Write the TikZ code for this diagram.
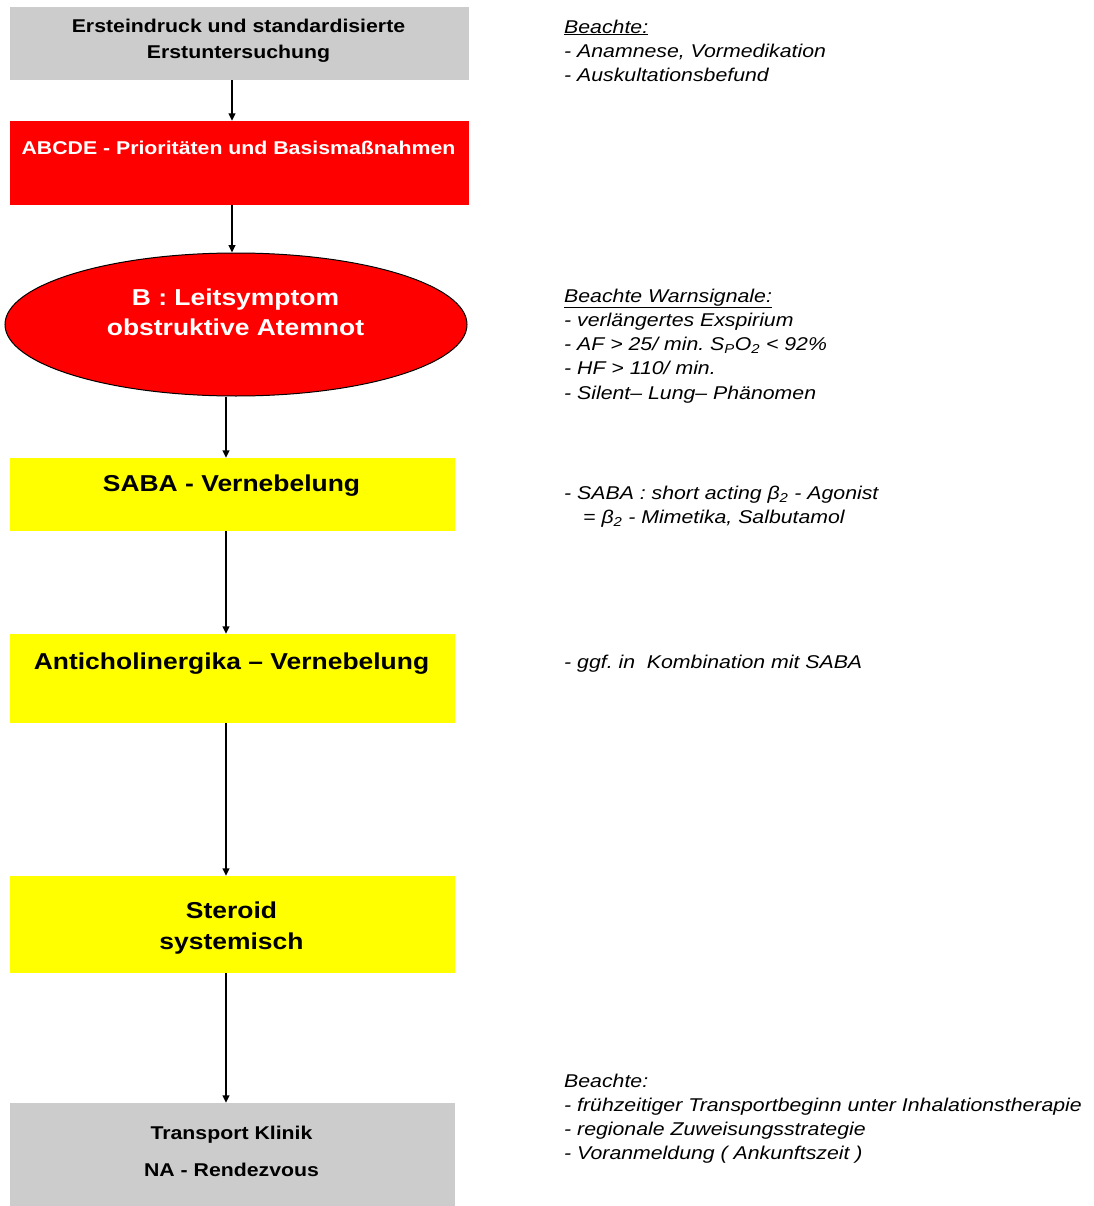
\documentclass[tikz,border=0pt]{standalone}
\usepackage{fontspec}
\setmainfont{Liberation Sans}[FakeStretch=1.15]
\usetikzlibrary{shapes.geometric,arrows.meta}
\frenchspacing

\definecolor{boxgray}{RGB}{204,204,204}
\definecolor{boxred}{RGB}{255,0,0}
\definecolor{boxyellow}{RGB}{255,255,0}

\tikzset{
  flowbox/.style={rectangle, inner sep=0pt, draw=none},
  graybox/.style={flowbox, fill=boxgray},
  redbox/.style={flowbox, fill=boxred},
  yellowbox/.style={flowbox, fill=boxyellow},
  boxtext/.style={inner sep=0pt, align=center},
  note/.style={inner sep=0pt, align=left, anchor=north west,
    font=\fontsize{18.5}{24.3}\selectfont\itshape},
  flow/.style={line width=1.4pt, -{Triangle[length=7.5pt,width=7pt]}},
}

\begin{document}
\begin{tikzpicture}[x=1pt,y=1pt]
\useasboundingbox (0,0) rectangle (1093,-1206);

% vertical axes of the connectors
\coordinate (axA) at (232,0);
\coordinate (axB) at (226,0);

% flow boxes
\node[graybox, minimum width=459pt, minimum height=73pt] (b1) at (239.5,-43.5) {};
\node[redbox, minimum width=459pt, minimum height=84pt] (b2) at (239.5,-163) {};
\node[ellipse, draw=black, line width=1pt, fill=boxred, inner sep=0pt,
      minimum width=462pt, minimum height=143pt] (ell) at (236,-324.5) {};
\node[yellowbox, minimum width=445pt, minimum height=73pt] (b3) at (232.5,-494.5) {};
\node[yellowbox, minimum width=445pt, minimum height=89pt] (b4) at (232.5,-678.5) {};
\node[yellowbox, minimum width=445pt, minimum height=97pt] (b5) at (232.5,-924.5) {};
\node[graybox, minimum width=445pt, minimum height=103pt] (b6) at (232.5,-1154.5) {};

% box labels
\node[boxtext, anchor=north, font=\fontsize{18.5}{26}\selectfont\bfseries] (t1) at (238.5,-19)
  {Ersteindruck und standardisierte\\Erstuntersuchung};
\node[boxtext, anchor=base, text=white, font=\fontsize{18.5}{22}\selectfont\bfseries] (t2) at (238.5,-154.3)
  {ABCDE - Prioritäten und Basismaßnahmen};
\node[boxtext, anchor=north, text=white, font=\fontsize{23}{30}\selectfont\bfseries] (t3) at (235.5,-288.4)
  {B : Leitsymptom\\obstruktive Atemnot};
\node[boxtext, anchor=base, font=\fontsize{23}{28}\selectfont\bfseries] (t4) at (231.5,-491.5)
  {SABA - Vernebelung};
\node[boxtext, anchor=base, font=\fontsize{23}{28}\selectfont\bfseries] (t5) at (231.5,-669.5)
  {Anticholinergika – Vernebelung};
\node[boxtext, anchor=north, font=\fontsize{23}{31}\selectfont\bfseries] (t6) at (231.5,-901.7)
  {Steroid\\systemisch};
\node[boxtext, anchor=north, font=\fontsize{18.5}{37}\selectfont\bfseries] (t7) at (231.5,-1125.4)
  {Transport Klinik\\NA - Rendezvous};

% connectors
\draw[flow] (b1.south -| axA) -- (b2.north -| axA);
\draw[flow] (b2.south -| axA) -- (ell.north -| axA);
\draw[flow] (ell.south -| axB) -- (b3.north -| axB);
\draw[flow] (b3.south -| axB) -- (b4.north -| axB);
\draw[flow] (b4.south -| axB) -- (b5.north -| axB);
\draw[flow] (b5.south -| axB) -- (b6.north -| axB);

% side notes
\node[note] (n1) at (564,-19.4)
  {\underline{Beachte:}\\
   - Anamnese, Vormedikation\\
   - Auskultationsbefund};
\node[note] (n2) at (564,-288.4)
  {\underline{Beachte Warnsignale:}\\
   - verlängertes Exspirium\\
   - AF > 25/ min. S\textsubscript{P}O\textsubscript{2} < 92\%\\
   - HF > 110/ min.\\
   - Silent– Lung– Phänomen};
\node[note] (n3) at (564,-485.4)
  {- SABA : short acting β\textsubscript{2} - Agonist\\
   \hspace*{19pt}= β\textsubscript{2} - Mimetika, Salbutamol};
\node[note, anchor=base west] (n4) at (564,-668.7)
  {- ggf. in~ Kombination mit SABA};
\node[note] (n5) at (564,-1073.4)
  {Beachte:\\
   - frühzeitiger Transportbeginn unter Inhalationstherapie\\
   - regionale Zuweisungsstrategie\\
   - Voranmeldung ( Ankunftszeit )};
\end{tikzpicture}
\end{document}
